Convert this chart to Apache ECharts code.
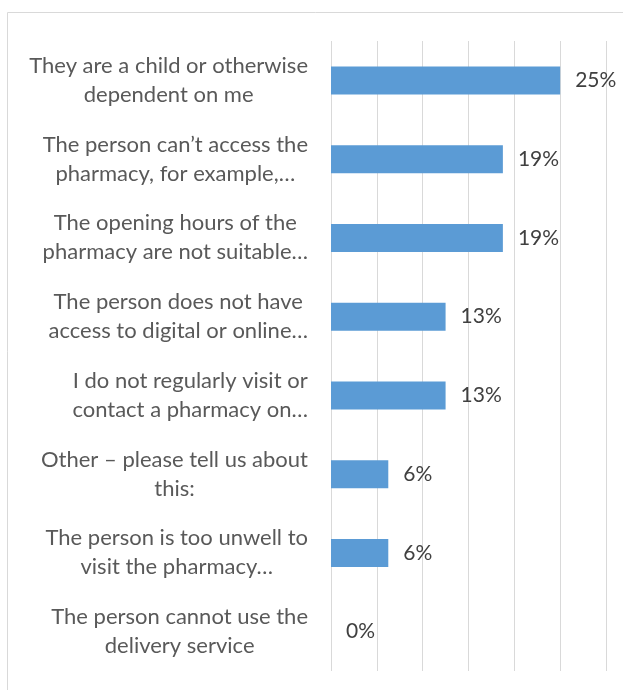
<!DOCTYPE html>
<html>
<head>
<meta charset="utf-8">
<script src="https://cdn.jsdelivr.net/npm/echarts@6/dist/echarts.min.js"></script>
<style>
  html, body { margin: 0; padding: 0; background: #fff; }
  #chart { width: 623px; height: 690px; }
</style>
</head>
<body>
<div id="chart"></div>
<script>
// reasons, top to bottom
const categories = [
  'They are a child or otherwise\ndependent on me',
  'The person can\u2019t access the\npharmacy, for example,\u2026',
  'The opening hours of the\npharmacy are not suitable\u2026',
  'The person does not have\naccess to digital or online\u2026',
  'I do not regularly visit or\ncontact a pharmacy on\u2026',
  'Other \u2013 please tell us about\nthis:',
  'The person is too unwell to\nvisit the pharmacy\u2026',
  'The person cannot use the\ndelivery service'
];
// share of responses, %
const values = [25, 18.75, 18.75, 12.5, 12.5, 6.25, 6.25, 0];

const chart = echarts.init(document.getElementById('chart'));
chart.setOption({
  animation: false,
  graphic: [{
    type: 'rect',
    shape: { x: 7.5, y: 12.5, width: 700, height: 700 },
    style: { fill: 'none', stroke: '#d9d9d9', lineWidth: 1 }
  }],
  grid: { left: 331, right: 17, top: 41, bottom: 19 },
  xAxis: {
    type: 'value',
    min: 0,
    max: 30,
    interval: 5,
    axisLabel: { show: false },
    axisLine: { show: false },
    axisTick: { show: false },
    splitLine: { lineStyle: { color: '#d9d9d9', width: 1 } }
  },
  yAxis: {
    type: 'category',
    data: categories,
    inverse: true,
    axisLine: { show: false },
    axisTick: { show: false },
    axisLabel: {
      margin: 23,
      align: 'right',
      // block sits against the axis, each line centred inside it
      formatter: v => v.split('\n').map(s => '{c|' + s + '}').join('\n'),
      rich: {
        c: {
          align: 'center',
          color: '#595959',
          fontFamily: 'Lato',
          fontSize: 22,
          lineHeight: 29
        }
      }
    }
  },
  series: [{
    type: 'bar',
    data: values,
    barWidth: 28,
    itemStyle: { color: '#5b9bd5' },
    label: {
      show: true,
      position: 'right',
      distance: 15,
      padding: [4, 0, 0, 0],
      color: '#404040',
      fontFamily: 'Lato',
      fontSize: 21,
      formatter: p => Math.round(p.value) + '%'
    }
  }]
});
</script>
</body>
</html>
